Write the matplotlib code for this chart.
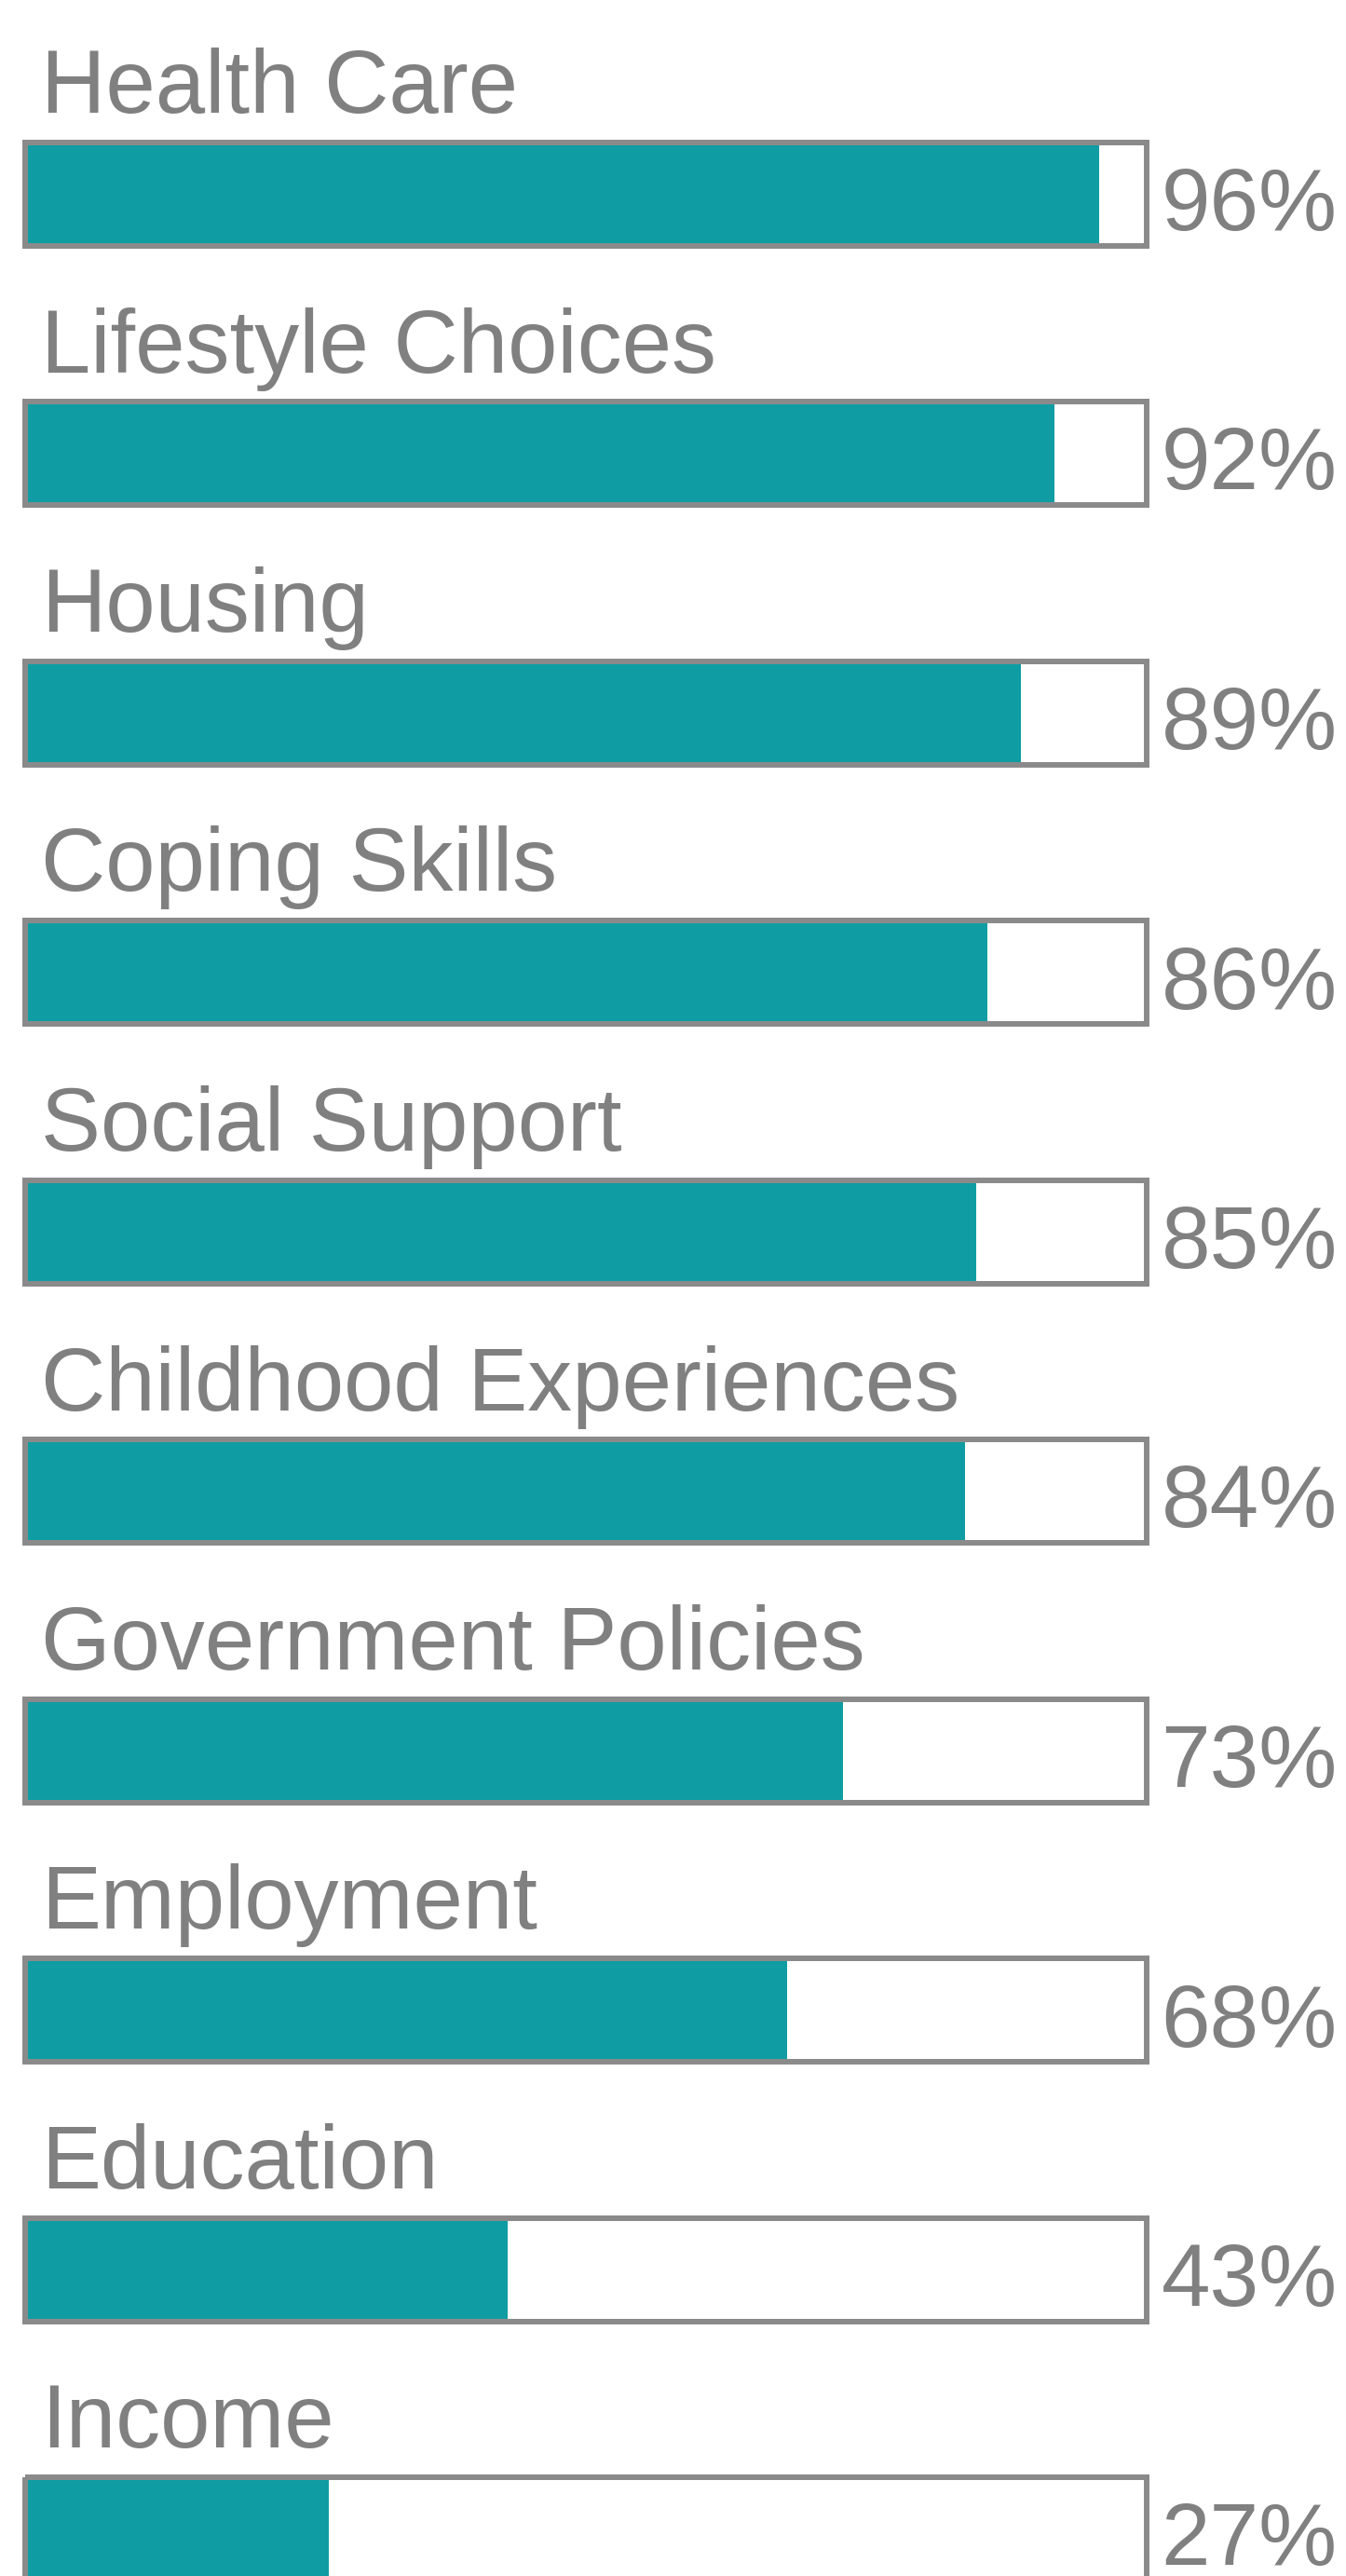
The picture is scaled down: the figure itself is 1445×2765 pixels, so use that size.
import matplotlib.pyplot as plt

plt.rcParams["font.family"] = ["Liberation Sans", "DejaVu Sans"]

categories = ["Health Care", "Lifestyle Choices", "Housing", "Coping Skills",
              "Social Support", "Childhood Experiences", "Government Policies",
              "Employment", "Education", "Income"]
values = [96, 92, 89, 86, 85, 84, 73, 68, 43, 27]

TEAL, GREY, TXT = "#0f9da3", "#8a8a8a", "#808080"
W, H = 1445, 2765
X0, SCALE = 30, 11.98      # pixel of 0% and pixels per 1%
STEP, CY0 = 278.5, 208     # row spacing and first bar centre (px)

fig = plt.figure(figsize=(W / 100, H / 100), dpi=100)
ax = fig.add_axes([0, 0, 1, 1])
ax.set_xlim(-X0 / SCALE, (W - X0) / SCALE)
ax.set_ylim(H, 0)
ax.axis("off")

yc = [CY0 + i * STEP for i in range(len(categories))]

# background box, fill, border
ax.barh(yc, 100.42, left=-0.21, height=111, color="white", zorder=1)
ax.barh(yc, values, left=0, height=106, color=TEAL, zorder=2)
ax.barh(yc, 100.42, left=-0.21, height=111, fill=False, edgecolor=GREY,
        linewidth=4.3, zorder=3)

for y, cat, v in zip(yc, categories, values):
    ax.text(1.15, y - 87, cat, ha="left", va="baseline", fontsize=69, color=TXT)
    ax.text(101.55, y + 39, f"{v}%", ha="left", va="baseline", fontsize=68, color=TXT)

fig.savefig("out.png", dpi=100)
